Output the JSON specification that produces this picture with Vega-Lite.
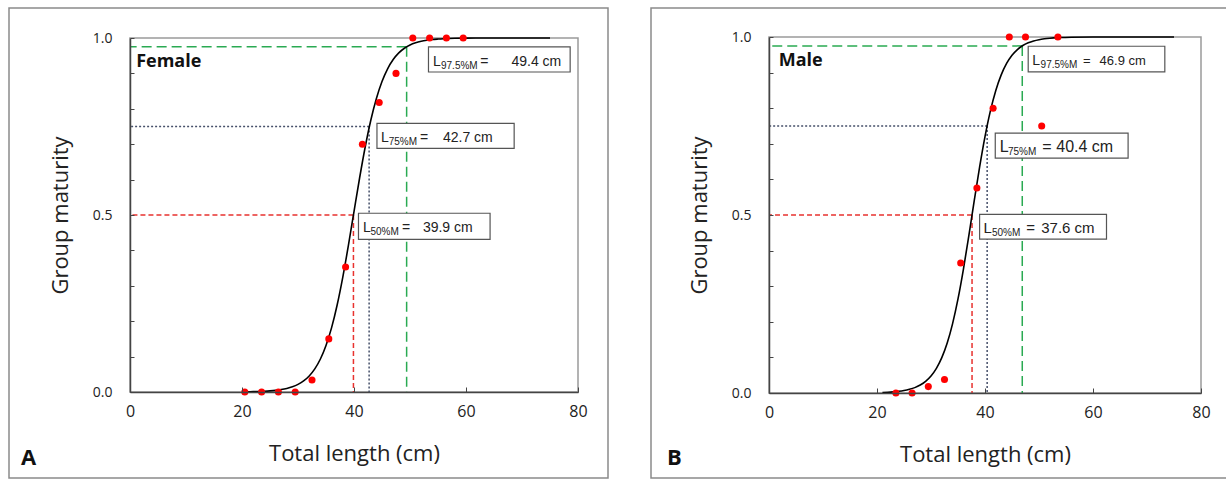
{
"$schema": "https://vega.github.io/schema/vega-lite/v6.json",
"padding": {"left": 8, "top": 7, "right": 0, "bottom": 0},
"background": "white",
"spacing": 41,
"config": {"view": {"stroke": "#8a8a8a", "strokeWidth": 1.5}},
"datasets": {
"femalePts": [{"len":20.5,"mat":0},{"len":23.5,"mat":0},{"len":26.5,"mat":0},{"len":29.5,"mat":0},{"len":32.5,"mat":0.034},{"len":35.5,"mat":0.15},{"len":38.5,"mat":0.353},{"len":41.5,"mat":0.70},{"len":44.5,"mat":0.818},{"len":47.5,"mat":0.90},{"len":50.5,"mat":1},{"len":53.5,"mat":1},{"len":56.5,"mat":1},{"len":59.5,"mat":1}],
"malePts": [{"len":23.5,"mat":0},{"len":26.5,"mat":0},{"len":29.5,"mat":0.018},{"len":32.5,"mat":0.038},{"len":35.5,"mat":0.365},{"len":38.5,"mat":0.576},{"len":41.5,"mat":0.80},{"len":44.5,"mat":1},{"len":47.5,"mat":1},{"len":50.5,"mat":0.75},{"len":53.5,"mat":1}],
"femaleCurve": [{"len":20,"mat":0.0005},{"len":21,"mat":0.0007},{"len":22,"mat":0.001},{"len":23,"mat":0.0015},{"len":24,"mat":0.0022},{"len":25,"mat":0.0032},{"len":26,"mat":0.0047},{"len":27,"mat":0.0069},{"len":28,"mat":0.0101},{"len":29,"mat":0.0147},{"len":30,"mat":0.0215},{"len":31,"mat":0.0313},{"len":32,"mat":0.0454},{"len":33,"mat":0.0653},{"len":34,"mat":0.0932},{"len":35,"mat":0.1314},{"len":36,"mat":0.1818},{"len":37,"mat":0.2464},{"len":38,"mat":0.3246},{"len":39,"mat":0.4141},{"len":40,"mat":0.5097},{"len":41,"mat":0.6045},{"len":42,"mat":0.6921},{"len":43,"mat":0.7677},{"len":44,"mat":0.8293},{"len":45,"mat":0.8773},{"len":46,"mat":0.9131},{"len":47,"mat":0.9392},{"len":48,"mat":0.9579},{"len":49,"mat":0.971},{"len":50,"mat":0.9801},{"len":51,"mat":0.9864},{"len":52,"mat":0.9907},{"len":53,"mat":0.9936},{"len":54,"mat":0.9957},{"len":55,"mat":0.997},{"len":56,"mat":0.998},{"len":58,"mat":0.9991},{"len":60,"mat":0.9996},{"len":65,"mat":1},{"len":70,"mat":1},{"len":75,"mat":1}],
"maleCurve": [{"len":21,"mat":0.0014},{"len":22,"mat":0.0021},{"len":23,"mat":0.0032},{"len":24,"mat":0.0047},{"len":25,"mat":0.0069},{"len":26,"mat":0.0103},{"len":27,"mat":0.0151},{"len":28,"mat":0.0223},{"len":29,"mat":0.0327},{"len":30,"mat":0.0477},{"len":31,"mat":0.0692},{"len":32,"mat":0.0992},{"len":33,"mat":0.1404},{"len":34,"mat":0.195},{"len":35,"mat":0.2642},{"len":36,"mat":0.3475},{"len":37,"mat":0.4413},{"len":38,"mat":0.5394},{"len":39,"mat":0.6346},{"len":40,"mat":0.7203},{"len":41,"mat":0.7925},{"len":42,"mat":0.8499},{"len":43,"mat":0.8936},{"len":44,"mat":0.9257},{"len":45,"mat":0.9487},{"len":46,"mat":0.9648},{"len":47,"mat":0.976},{"len":48,"mat":0.9837},{"len":49,"mat":0.9889},{"len":50,"mat":0.9925},{"len":51,"mat":0.9949},{"len":52,"mat":0.9966},{"len":54,"mat":0.9984},{"len":56,"mat":0.9993},{"len":60,"mat":0.9999},{"len":65,"mat":1},{"len":70,"mat":1},{"len":75,"mat":1}],
"femaleRef": [{"k":"L50","L":39.9,"p":0.5},{"k":"L75","L":42.7,"p":0.75},{"k":"L97.5","L":49.4,"p":0.975}],
"maleRef": [{"k":"L50","L":37.6,"p":0.5},{"k":"L75","L":40.4,"p":0.75},{"k":"L97.5","L":46.9,"p":0.975}]
},
"hconcat": [
{
"width": 599, "height": 470,
"title": {"text": "A", "orient": "bottom", "anchor": "start", "frame": "group", "offset": -30, "dx": 12, "fontSize": 22, "fontWeight": "bold", "font": "Open Sans", "color": "#111"},
"layer": [
{"data": {"values": [{}]}, "mark": {"type": "rect", "filled": false, "color": "#9a9a9a", "strokeWidth": 1.5},
 "encoding": {"x": {"datum": 0, "type": "quantitative"}, "x2": {"datum": 80}, "y": {"datum": 0, "type": "quantitative"}, "y2": {"datum": 1}}},
{"data": {"name": "femaleRef"}, "mark": {"type": "rule", "strokeWidth": 1.5},
 "encoding": {"x": {"field": "L", "type": "quantitative"}, "x2": {"datum": 0}, "y": {"field": "p", "type": "quantitative"},
  "color": {"field": "k", "type": "nominal", "scale": {"domain": ["L50","L75","L97.5"], "range": ["#e8322f","#46506a","#2aaa52"]}, "legend": null},
  "strokeDash": {"field": "k", "type": "nominal", "scale": {"domain": ["L50","L75","L97.5"], "range": [[5,3],[2,2],[10,5]]}, "legend": null}}},
{"data": {"name": "femaleRef"}, "mark": {"type": "rule", "strokeWidth": 1.5},
 "encoding": {"x": {"field": "L", "type": "quantitative"}, "y": {"field": "p", "type": "quantitative"}, "y2": {"datum": 0},
  "color": {"field": "k", "type": "nominal", "scale": {"domain": ["L50","L75","L97.5"], "range": ["#e8322f","#46506a","#2aaa52"]}, "legend": null},
  "strokeDash": {"field": "k", "type": "nominal", "scale": {"domain": ["L50","L75","L97.5"], "range": [[5,3],[2,2],[10,5]]}, "legend": null}}},
{"data": {"name": "femaleCurve"}, "mark": {"type": "line", "color": "#000", "strokeWidth": 1.6, "interpolate": "monotone"},
 "encoding": {
  "x": {"field": "len", "type": "quantitative", "title": "Total length (cm)", "scale": {"domain": [0, 80], "range": [121, 569], "nice": false, "zero": false},
   "axis": {"title": "Total length (cm)", "orient": "bottom", "offset": -86, "values": [0,20,40,60,80], "format": "d", "tickSize": -5, "tickColor": "#444", "domainColor": "#444", "domainWidth": 1.5, "labelFont": "Open Sans", "labelFontSize": 16, "labelColor": "#222", "labelPadding": 16, "labelFlush": false, "titleFont": "Open Sans", "titleFontSize": 22, "titleFontWeight": "normal", "titleColor": "#222", "titlePadding": 24, "grid": false, "zindex": 1}},
  "y": {"field": "mat", "type": "quantitative", "title": "Group maturity", "scale": {"domain": [0, 1], "range": [384, 30], "nice": false},
   "axis": {"title": "Group maturity", "orient": "left", "offset": -121, "values": [0,0.1,0.2,0.3,0.4,0.5,0.6,0.7,0.8,0.9,1], "labelExpr": "datum.value == 0 ? '0.0' : datum.value == 0.5 ? '0.5' : datum.value == 1 ? '1.0' : ''", "labelOverlap": false, "tickSize": -4, "tickColor": "#444", "domainColor": "#444", "domainWidth": 1.5, "labelFont": "Open Sans", "labelFontSize": 14, "labelColor": "#222", "labelPadding": 22, "labelFlush": false, "titleFont": "Open Sans", "titleFontSize": 22, "titleFontWeight": "normal", "titleColor": "#222", "titlePadding": 20, "grid": false, "zindex": 1}}}},
{"data": {"name": "femalePts"}, "mark": {"type": "circle", "color": "#ff0000", "opacity": 1, "size": 50},
 "encoding": {"x": {"field": "len", "type": "quantitative"}, "y": {"field": "mat", "type": "quantitative"}}},
{"data": {"values": [{}]}, "mark": {"type": "text", "text": "Female", "align": "left", "baseline": "middle", "font": "Open Sans", "fontSize": 18, "fontWeight": "bold", "color": "#111"},
 "encoding": {"x": {"datum": 1.1, "type": "quantitative"}, "y": {"datum": 0.931, "type": "quantitative"}}},
{"data": {"values": [{}]},
 "layer": [
  {"mark": {"type": "rect", "fill": "white", "stroke": "#555", "strokeWidth": 1.2}, "encoding": {"x": {"datum": 53.3, "type": "quantitative"}, "x2": {"datum": 78.6}, "y": {"datum": 0.904, "type": "quantitative"}, "y2": {"datum": 0.975}}},
  {"mark": {"type": "text", "text": "L", "align": "left", "baseline": "alphabetic", "dx": 4.4, "font": "Liberation Sans", "fontSize": 14, "color": "#222"}, "encoding": {"x": {"datum": 53.3, "type": "quantitative"}, "y": {"datum": 0.921, "type": "quantitative"}}},
  {"mark": {"type": "text", "text": "97.5%M", "align": "left", "baseline": "alphabetic", "dx": 12.5, "dy": 3, "font": "Liberation Sans", "fontSize": 10, "color": "#222"}, "encoding": {"x": {"datum": 53.3, "type": "quantitative"}, "y": {"datum": 0.921, "type": "quantitative"}}},
  {"mark": {"type": "text", "text": "=", "align": "left", "baseline": "alphabetic", "dx": 51.7, "font": "Liberation Sans", "fontSize": 14, "color": "#222"}, "encoding": {"x": {"datum": 53.3, "type": "quantitative"}, "y": {"datum": 0.921, "type": "quantitative"}}},
  {"mark": {"type": "text", "text": "49.4 cm", "align": "left", "baseline": "alphabetic", "dx": 83, "font": "Liberation Sans", "fontSize": 14, "color": "#222"}, "encoding": {"x": {"datum": 53.3, "type": "quantitative"}, "y": {"datum": 0.921, "type": "quantitative"}}}
 ]},
{"data": {"values": [{}]},
 "layer": [
  {"mark": {"type": "rect", "fill": "white", "stroke": "#555", "strokeWidth": 1.2}, "encoding": {"x": {"datum": 44.1, "type": "quantitative"}, "x2": {"datum": 68.6}, "y": {"datum": 0.688, "type": "quantitative"}, "y2": {"datum": 0.759}}},
  {"mark": {"type": "text", "text": "L", "align": "left", "baseline": "alphabetic", "dx": 4, "font": "Liberation Sans", "fontSize": 14, "color": "#222"}, "encoding": {"x": {"datum": 44.1, "type": "quantitative"}, "y": {"datum": 0.706, "type": "quantitative"}}},
  {"mark": {"type": "text", "text": "75%M", "align": "left", "baseline": "alphabetic", "dx": 11.7, "dy": 3, "font": "Liberation Sans", "fontSize": 10, "color": "#222"}, "encoding": {"x": {"datum": 44.1, "type": "quantitative"}, "y": {"datum": 0.706, "type": "quantitative"}}},
  {"mark": {"type": "text", "text": "=", "align": "left", "baseline": "alphabetic", "dx": 43, "font": "Liberation Sans", "fontSize": 14, "color": "#222"}, "encoding": {"x": {"datum": 44.1, "type": "quantitative"}, "y": {"datum": 0.706, "type": "quantitative"}}},
  {"mark": {"type": "text", "text": "42.7 cm", "align": "left", "baseline": "alphabetic", "dx": 66, "font": "Liberation Sans", "fontSize": 14, "color": "#222"}, "encoding": {"x": {"datum": 44.1, "type": "quantitative"}, "y": {"datum": 0.706, "type": "quantitative"}}}
 ]},
{"data": {"values": [{}]},
 "layer": [
  {"mark": {"type": "rect", "fill": "white", "stroke": "#555", "strokeWidth": 1.2}, "encoding": {"x": {"datum": 40.8, "type": "quantitative"}, "x2": {"datum": 64.3}, "y": {"datum": 0.431, "type": "quantitative"}, "y2": {"datum": 0.505}}},
  {"mark": {"type": "text", "text": "L", "align": "left", "baseline": "alphabetic", "dx": 4.4, "font": "Liberation Sans", "fontSize": 14, "color": "#222"}, "encoding": {"x": {"datum": 40.8, "type": "quantitative"}, "y": {"datum": 0.451, "type": "quantitative"}}},
  {"mark": {"type": "text", "text": "50%M", "align": "left", "baseline": "alphabetic", "dx": 12, "dy": 3, "font": "Liberation Sans", "fontSize": 10, "color": "#222"}, "encoding": {"x": {"datum": 40.8, "type": "quantitative"}, "y": {"datum": 0.451, "type": "quantitative"}}},
  {"mark": {"type": "text", "text": "=", "align": "left", "baseline": "alphabetic", "dx": 43.4, "font": "Liberation Sans", "fontSize": 14, "color": "#222"}, "encoding": {"x": {"datum": 40.8, "type": "quantitative"}, "y": {"datum": 0.451, "type": "quantitative"}}},
  {"mark": {"type": "text", "text": "39.9 cm", "align": "left", "baseline": "alphabetic", "dx": 64.4, "font": "Liberation Sans", "fontSize": 14, "color": "#222"}, "encoding": {"x": {"datum": 40.8, "type": "quantitative"}, "y": {"datum": 0.451, "type": "quantitative"}}}
 ]}
]
},
{
"width": 576, "height": 470,
"title": {"text": "B", "orient": "bottom", "anchor": "start", "frame": "group", "offset": -30, "dx": 16, "fontSize": 22, "fontWeight": "bold", "font": "Open Sans", "color": "#111"},
"layer": [
{"data": {"values": [{}]}, "mark": {"type": "rect", "filled": false, "color": "#9a9a9a", "strokeWidth": 1.5},
 "encoding": {"x": {"datum": 0, "type": "quantitative"}, "x2": {"datum": 80}, "y": {"datum": 0, "type": "quantitative"}, "y2": {"datum": 1}}},
{"data": {"name": "maleRef"}, "mark": {"type": "rule", "strokeWidth": 1.5},
 "encoding": {"x": {"field": "L", "type": "quantitative"}, "x2": {"datum": 0}, "y": {"field": "p", "type": "quantitative"},
  "color": {"field": "k", "type": "nominal", "scale": {"domain": ["L50","L75","L97.5"], "range": ["#e8322f","#46506a","#2aaa52"]}, "legend": null},
  "strokeDash": {"field": "k", "type": "nominal", "scale": {"domain": ["L50","L75","L97.5"], "range": [[5,3],[2,2],[10,5]]}, "legend": null}}},
{"data": {"name": "maleRef"}, "mark": {"type": "rule", "strokeWidth": 1.5},
 "encoding": {"x": {"field": "L", "type": "quantitative"}, "y": {"field": "p", "type": "quantitative"}, "y2": {"datum": 0},
  "color": {"field": "k", "type": "nominal", "scale": {"domain": ["L50","L75","L97.5"], "range": ["#e8322f","#46506a","#2aaa52"]}, "legend": null},
  "strokeDash": {"field": "k", "type": "nominal", "scale": {"domain": ["L50","L75","L97.5"], "range": [[5,3],[2,2],[10,5]]}, "legend": null}}},
{"data": {"name": "maleCurve"}, "mark": {"type": "line", "color": "#000", "strokeWidth": 1.6, "interpolate": "monotone"},
 "encoding": {
  "x": {"field": "len", "type": "quantitative", "title": "Total length (cm)", "scale": {"domain": [0, 80], "range": [118, 550], "nice": false, "zero": false},
   "axis": {"title": "Total length (cm)", "orient": "bottom", "offset": -85, "values": [0,20,40,60,80], "format": "d", "tickSize": -5, "tickColor": "#444", "domainColor": "#444", "domainWidth": 1.5, "labelFont": "Open Sans", "labelFontSize": 16, "labelColor": "#222", "labelPadding": 16, "labelFlush": false, "titleFont": "Open Sans", "titleFontSize": 22, "titleFontWeight": "normal", "titleColor": "#222", "titlePadding": 24, "grid": false, "zindex": 1}},
  "y": {"field": "mat", "type": "quantitative", "title": "Group maturity", "scale": {"domain": [0, 1], "range": [385, 29], "nice": false},
   "axis": {"title": "Group maturity", "orient": "left", "offset": -118, "values": [0,0.1,0.2,0.3,0.4,0.5,0.6,0.7,0.8,0.9,1], "labelExpr": "datum.value == 0 ? '0.0' : datum.value == 0.5 ? '0.5' : datum.value == 1 ? '1.0' : ''", "labelOverlap": false, "tickSize": -4, "tickColor": "#444", "domainColor": "#444", "domainWidth": 1.5, "labelFont": "Open Sans", "labelFontSize": 14, "labelColor": "#222", "labelPadding": 22, "labelFlush": false, "titleFont": "Open Sans", "titleFontSize": 22, "titleFontWeight": "normal", "titleColor": "#222", "titlePadding": 20, "grid": false, "zindex": 1}}}},
{"data": {"name": "malePts"}, "mark": {"type": "circle", "color": "#ff0000", "opacity": 1, "size": 50},
 "encoding": {"x": {"field": "len", "type": "quantitative"}, "y": {"field": "mat", "type": "quantitative"}}},
{"data": {"values": [{}]}, "mark": {"type": "text", "text": "Male", "align": "left", "baseline": "middle", "font": "Open Sans", "fontSize": 18, "fontWeight": "bold", "color": "#111"},
 "encoding": {"x": {"datum": 1.8, "type": "quantitative"}, "y": {"datum": 0.933, "type": "quantitative"}}},
{"data": {"values": [{}]},
 "layer": [
  {"mark": {"type": "rect", "fill": "white", "stroke": "#555", "strokeWidth": 1.2}, "encoding": {"x": {"datum": 48.0, "type": "quantitative"}, "x2": {"datum": 73.3}, "y": {"datum": 0.902, "type": "quantitative"}, "y2": {"datum": 0.974}}},
  {"mark": {"type": "text", "text": "L", "align": "left", "baseline": "alphabetic", "dx": 4, "font": "Liberation Sans", "fontSize": 14, "color": "#222"}, "encoding": {"x": {"datum": 48.0, "type": "quantitative"}, "y": {"datum": 0.92, "type": "quantitative"}}},
  {"mark": {"type": "text", "text": "97.5%M", "align": "left", "baseline": "alphabetic", "dx": 12.4, "dy": 3, "font": "Liberation Sans", "fontSize": 10, "color": "#222"}, "encoding": {"x": {"datum": 48.0, "type": "quantitative"}, "y": {"datum": 0.92, "type": "quantitative"}}},
  {"mark": {"type": "text", "text": "=", "align": "left", "baseline": "alphabetic", "dx": 54.7, "font": "Liberation Sans", "fontSize": 13, "color": "#222"}, "encoding": {"x": {"datum": 48.0, "type": "quantitative"}, "y": {"datum": 0.92, "type": "quantitative"}}},
  {"mark": {"type": "text", "text": "46.9    cm", "align": "left", "baseline": "alphabetic", "dx": 71.4, "font": "Liberation Sans", "fontSize": 13, "color": "#222"}, "encoding": {"x": {"datum": 48.0, "type": "quantitative"}, "y": {"datum": 0.92, "type": "quantitative"}}}
 ]},
{"data": {"values": [{}]},
 "layer": [
  {"mark": {"type": "rect", "fill": "white", "stroke": "#555", "strokeWidth": 1.2}, "encoding": {"x": {"datum": 41.9, "type": "quantitative"}, "x2": {"datum": 66.5}, "y": {"datum": 0.66, "type": "quantitative"}, "y2": {"datum": 0.73}}},
  {"mark": {"type": "text", "text": "L", "align": "left", "baseline": "alphabetic", "dx": 4.4, "font": "Liberation Sans", "fontSize": 16, "color": "#222"}, "encoding": {"x": {"datum": 41.9, "type": "quantitative"}, "y": {"datum": 0.677, "type": "quantitative"}}},
  {"mark": {"type": "text", "text": "75%M", "align": "left", "baseline": "alphabetic", "dx": 12.7, "dy": 3, "font": "Liberation Sans", "fontSize": 10, "color": "#222"}, "encoding": {"x": {"datum": 41.9, "type": "quantitative"}, "y": {"datum": 0.677, "type": "quantitative"}}},
  {"mark": {"type": "text", "text": "=", "align": "left", "baseline": "alphabetic", "dx": 47, "font": "Liberation Sans", "fontSize": 16, "color": "#222"}, "encoding": {"x": {"datum": 41.9, "type": "quantitative"}, "y": {"datum": 0.677, "type": "quantitative"}}},
  {"mark": {"type": "text", "text": "40.4  cm", "align": "left", "baseline": "alphabetic", "dx": 61, "font": "Liberation Sans", "fontSize": 16, "color": "#222"}, "encoding": {"x": {"datum": 41.9, "type": "quantitative"}, "y": {"datum": 0.677, "type": "quantitative"}}}
 ]},
{"data": {"values": [{}]},
 "layer": [
  {"mark": {"type": "rect", "fill": "white", "stroke": "#555", "strokeWidth": 1.2}, "encoding": {"x": {"datum": 39.0, "type": "quantitative"}, "x2": {"datum": 62.5}, "y": {"datum": 0.432, "type": "quantitative"}, "y2": {"datum": 0.502}}},
  {"mark": {"type": "text", "text": "L", "align": "left", "baseline": "alphabetic", "dx": 4, "font": "Liberation Sans", "fontSize": 15, "color": "#222"}, "encoding": {"x": {"datum": 39.0, "type": "quantitative"}, "y": {"datum": 0.449, "type": "quantitative"}}},
  {"mark": {"type": "text", "text": "50%M", "align": "left", "baseline": "alphabetic", "dx": 12.3, "dy": 3, "font": "Liberation Sans", "fontSize": 10, "color": "#222"}, "encoding": {"x": {"datum": 39.0, "type": "quantitative"}, "y": {"datum": 0.449, "type": "quantitative"}}},
  {"mark": {"type": "text", "text": "=", "align": "left", "baseline": "alphabetic", "dx": 46.6, "font": "Liberation Sans", "fontSize": 15, "color": "#222"}, "encoding": {"x": {"datum": 39.0, "type": "quantitative"}, "y": {"datum": 0.449, "type": "quantitative"}}},
  {"mark": {"type": "text", "text": "37.6   cm", "align": "left", "baseline": "alphabetic", "dx": 61.6, "font": "Liberation Sans", "fontSize": 15, "color": "#222"}, "encoding": {"x": {"datum": 39.0, "type": "quantitative"}, "y": {"datum": 0.449, "type": "quantitative"}}}
 ]}
]
}
]
}
